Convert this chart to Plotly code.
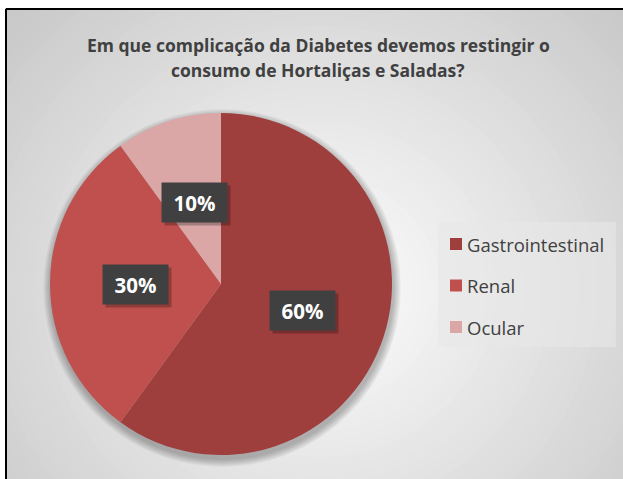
import math
import plotly.graph_objects as go

# ---- data ----
labels = ["Gastrointestinal", "Renal", "Ocular"]
values = [60, 30, 10]
colors = ["#9E3F3E", "#C0504D", "#DAA6A6"]
title_lines = ["Em que complicação da Diabetes devemos restingir o",
               "consumo de Hortaliças e Saladas?"]

# ---- layout constants (pixels) ----
W, H = 623, 479
PIE_CX, PIE_CY, PIE_R = 221, 284, 171
FONT = "Open Sans"
TXT = "#404040"


def px(x):
    return x / W


def py(y):
    return 1 - y / H


fig = go.Figure()

shapes = []
# radial gradient background
GCX, GCY, GR = 320, 290, 440
N = 50
for k in range(N, 0, -1):
    r = GR * k / N
    t = k / N
    c = int(round(255 - (255 - 196) * t))
    shapes.append(dict(type="circle", xref="paper", yref="paper", layer="below",
                       x0=px(GCX - r * 1.05), x1=px(GCX + r * 1.05),
                       y0=py(GCY + r), y1=py(GCY - r),
                       fillcolor=f"rgb({c},{c},{c})", line=dict(width=0)))
# white outside the chart border (top / left)
shapes.append(dict(type="rect", xref="paper", yref="paper", layer="below",
                   x0=0, x1=1, y0=py(8), y1=1, fillcolor="white", line=dict(width=0)))
shapes.append(dict(type="rect", xref="paper", yref="paper", layer="below",
                   x0=0, x1=px(5), y0=0, y1=1, fillcolor="white", line=dict(width=0)))
# soft pie shadow
for k in range(8, 0, -1):
    r = PIE_R + k
    shapes.append(dict(type="circle", xref="paper", yref="paper", layer="below",
                       x0=px(PIE_CX + 1 - r), x1=px(PIE_CX + 1 + r),
                       y0=py(PIE_CY + 4 + r), y1=py(PIE_CY + 4 - r),
                       fillcolor="rgba(0,0,0,0.035)", line=dict(width=0)))
# border: only top and left edges are visible (chart is cropped right / bottom)
shapes.append(dict(type="line", xref="paper", yref="paper", layer="above",
                   x0=px(6), x1=1.2, y0=py(9), y1=py(9),
                   line=dict(color="black", width=2)))
shapes.append(dict(type="line", xref="paper", yref="paper", layer="above",
                   x0=px(6), x1=px(6), y0=py(9), y1=-0.2,
                   line=dict(color="black", width=2)))

fig.add_trace(go.Pie(
    labels=labels, values=values, sort=False, direction="clockwise", rotation=0,
    marker=dict(colors=colors, line=dict(width=0)),
    textinfo="none", showlegend=False, hoverinfo="label+percent",
    domain=dict(x=[px(PIE_CX - PIE_R), px(PIE_CX + PIE_R)],
                y=[py(PIE_CY + PIE_R), py(PIE_CY - PIE_R)]),
))

annotations = []
# title
for i, line in enumerate(title_lines):
    annotations.append(dict(text=f"<b>{line}</b>", xref="paper", yref="paper",
                            x=px(318), y=py(45 + 25 * i), xanchor="center", yanchor="middle",
                            showarrow=False, font=dict(family=FONT, size=17.5, color=TXT)))

# data labels, placed along each slice's mid-angle
total = sum(values)
cum = 0
for v in values:
    mid = (cum + v / 2) / total * 2 * math.pi
    cum += v
    lx = PIE_CX + 0.5 * PIE_R * math.sin(mid)
    ly = PIE_CY - 0.5 * PIE_R * math.cos(mid)
    txt = f"{round(v / total * 100)}%"
    annotations.append(dict(text="", xref="paper", yref="paper",
                            x=px(lx + 3), y=py(ly + 3), xanchor="center", yanchor="middle",
                            showarrow=False, width=61, height=35, borderpad=2,
                            bgcolor="rgba(0,0,0,0.25)"))
    annotations.append(dict(text=f"<b>{txt}</b>", xref="paper", yref="paper",
                            x=px(lx), y=py(ly), xanchor="center", yanchor="middle",
                            showarrow=False, width=61, height=35, borderpad=2,
                            bgcolor="#404040",
                            font=dict(family=FONT, size=20.5, color="white")))

# custom legend
shapes.append(dict(type="rect", xref="paper", yref="paper", layer="below",
                   x0=px(438), x1=px(616), y0=py(347), y1=py(222),
                   fillcolor="rgba(232,232,232,0.6)", line=dict(width=0)))
for i, (lab, col) in enumerate(zip(labels, colors)):
    yc = 244 + 41.5 * i
    shapes.append(dict(type="rect", xref="paper", yref="paper", layer="below",
                       x0=px(450), x1=px(462), y0=py(yc + 6), y1=py(yc - 6),
                       fillcolor=col, line=dict(width=0)))
    annotations.append(dict(text=lab, xref="paper", yref="paper",
                            x=px(465), y=py(yc), xanchor="left", yanchor="middle",
                            showarrow=False, font=dict(family=FONT, size=18.5, color=TXT)))

fig.update_layout(
    width=W, height=H, margin=dict(l=0, r=0, t=0, b=0),
    paper_bgcolor="white", plot_bgcolor="white",
    shapes=shapes, annotations=annotations, showlegend=False,
)

fig.write_html("out.html", config={"displayModeBar": False},
               post_script="document.body.style.margin='0';document.body.style.overflow='hidden';")
